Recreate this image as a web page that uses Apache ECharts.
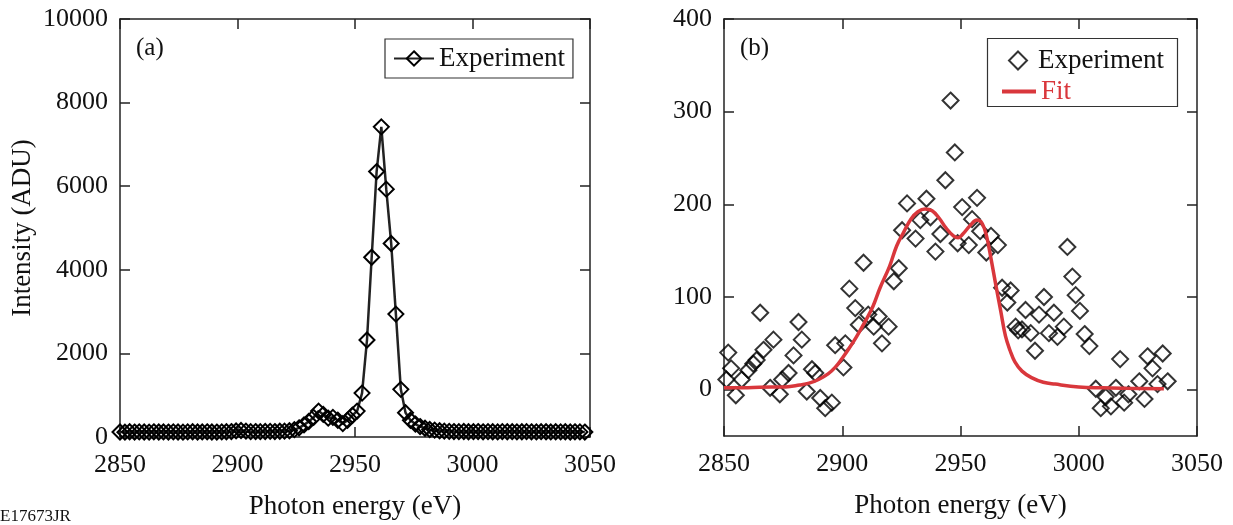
<!DOCTYPE html>
<html><head><meta charset="utf-8">
<script src="https://cdn.jsdelivr.net/npm/echarts@6/dist/echarts.min.js"></script>
<style>html,body{margin:0;padding:0;background:#fff}#c{width:1233px;height:525px}</style>
</head><body><div id="c"></div>
<script>
// Panel (a): Experiment
const xA = [2850.0,2852.1,2854.1,2856.2,2858.2,2860.3,2862.4,2864.4,2866.5,2868.5,
2870.6,2872.7,2874.7,2876.8,2878.8,2880.9,2883.0,2885.0,2887.1,2889.1,
2891.2,2893.3,2895.3,2897.4,2899.4,2901.5,2903.6,2905.6,2907.7,2909.7,
2911.8,2913.9,2915.9,2918.0,2920.0,2922.1,2924.2,2926.2,2928.3,2930.3,
2932.4,2934.5,2936.5,2938.6,2940.6,2942.7,2944.8,2946.8,2948.9,2950.9,
2953.0,2955.1,2957.1,2959.2,2961.2,2963.3,2965.4,2967.4,2969.5,2971.5,
2973.6,2975.7,2977.7,2979.8,2981.8,2983.9,2986.0,2988.0,2990.1,2992.1,
2994.2,2996.3,2998.3,3000.4,3002.4,3004.5,3006.6,3008.6,3010.7,3012.7,
3014.8,3016.9,3018.9,3021.0,3023.0,3025.1,3027.2,3029.2,3031.3,3033.3,
3035.4,3037.5,3039.5,3041.6,3043.6,3045.7,3047.8];
const yA = [120,115,125,118,122,120,117,124,119,121,
118,123,120,116,122,125,119,121,124,120,
118,122,126,130,145,155,140,128,130,128,
132,135,130,138,140,150,175,220,290,370,
470,620,540,450,470,400,320,400,520,620,
1050,2320,4300,6350,7420,5930,4630,2940,1140,580,
400,310,250,210,180,165,150,140,135,130,
128,132,125,127,130,124,128,126,122,129,
125,127,123,126,128,124,122,127,125,121,
126,123,125,120,124,122,118];

// Panel (b): Experiment scatter
const xB = [2851,2851.8,2853,2855,2857.5,2860.3,2862.4,2863.8,2865.3,2866.7,
2869.5,2870.9,2873.6,2874.6,2877.3,2879.4,2881.5,2882.9,2885,2887.2,
2888.6,2890.7,2892.8,2895.6,2897,2900.5,2901.3,2903,2905.5,2907,
2909,2911,2913.3,2915.4,2916.8,2919.6,2921.8,2923.9,2925.3,2927.4,
2931,2933,2935.6,2937.3,2939.4,2941.5,2943.6,2945.8,2947.6,2948.8,
2950.7,2953.5,2954.9,2957,2958.3,2960.9,2962.9,2965.8,2967.6,2969.8,
2971.2,2973.3,2974.4,2976,2977.5,2979.7,2981.5,2983.2,2985.3,2987.4,
2989.5,2991,2993.7,2995.2,2997.3,2998.7,3000.5,3002.5,3004.5,3007.2,
3009.3,3011.4,3013.6,3015.7,3017.5,3019.2,3021,3025.6,3027.8,3029.1,
3031.2,3033.3,3035.5,3037.6];
const yB = [11,40,23,-6,11,21,28,32,83,43,
2,54,-5,11,18,37,73,54,-2,22,
18,-9,-20,-14,48,24,50,109,88,70,
137,81,68,79,50,68,117,131,172,201,
163,183,206,186,149,168,226,312,256,158,
197,156,184,207,171,148,166,156,110,94,
107,68,64,65,86,61,42,81,100,61,
83,57,68,154,122,102,85,60,47,1,
-20,-8,-18,2,33,-14,-5,9,-10,36,
23,6,39,9];

// Panel (b): Fit curve
const xFit = [2850,2860,2870,2876,2882,2886,2890,2894,2897,2900,2903,2906,2910,2913,2916,2920,2923,2926,2929,2932,2935,2938,2941,2944,2947,2949,2951,2954,2957,2959,2961,2963,2965,2967,2969,2971,2973,2976,2980,2985,2990,3000,3010,3020,3036];
const yFit = [2,2,3,3,5,7,11,17,24,34,45,57,75,90,110,133,155,170,184,192,195,193,185,174,166,164,168,177,183,180,166,140,112,85,58,42,30,20,13,8,6,3,2,1.5,1];

const xTicks = [2850,2900,2950,3000,3050];
const yTicksA = [0,2000,4000,6000,8000,10000];
const yTicksB = [0,100,200,300,400];

const pairs = (xs, ys) => xs.map((x, i) => [x, ys[i]]);
const FONT = 'Liberation Serif';
const ink = '#111';
const RED = '#d9373c';
const lab = {fontFamily: FONT, fontSize: 26, color: ink, formatter: v => String(v)};

function xAx(grid, pos, labels, name) {
  return {
    type: 'value', gridIndex: grid, position: pos, min: 2850, max: 3050, interval: 50,
    axisLine: {show: true, onZero: false, lineStyle: {color: '#222', width: 1.5}},
    axisTick: {show: true, inside: true, length: 10, lineStyle: {color: '#222', width: 1.5}},
    axisLabel: {show: labels, margin: 15, ...lab},
    splitLine: {show: false},
    name: name || '', nameLocation: 'middle', nameGap: 56,
    nameTextStyle: {fontFamily: FONT, fontSize: 27, color: ink}
  };
}
function yAx(grid, pos, labels, min, max, ticks, name) {
  return {
    type: 'value', gridIndex: grid, position: pos, min: min, max: max,
    axisLine: {show: true, onZero: false, lineStyle: {color: '#222', width: 1.5}},
    axisTick: {show: true, inside: true, length: 10, customValues: ticks, lineStyle: {color: '#222', width: 1.5}},
    axisLabel: {show: labels, margin: 12, customValues: ticks, ...lab},
    splitLine: {show: false},
    name: name || '', nameLocation: 'middle', nameGap: 84,
    nameTextStyle: {fontFamily: FONT, fontSize: 27, color: ink}
  };
}

const legText = {fontFamily: FONT, fontSize: 27, color: ink};
const chart = echarts.init(document.getElementById('c'), null, {renderer: 'canvas'});
chart.setOption({
  animation: false,
  backgroundColor: '#fff',
  grid: [
    {left: 120, right: 643, top: 19, bottom: 88},
    {left: 724, right: 36, top: 19, bottom: 89}
  ],
  xAxis: [
    xAx(0, 'bottom', true, 'Photon energy (eV)'),
    xAx(0, 'top', false),
    xAx(1, 'bottom', true, 'Photon energy (eV)'),
    xAx(1, 'top', false)
  ],
  yAxis: [
    yAx(0, 'left', true, 0, 10000, yTicksA, 'Intensity (ADU)'),
    yAx(0, 'right', false, 0, 10000, yTicksA),
    yAx(1, 'left', true, -50, 400, yTicksB),
    yAx(1, 'right', false, -50, 400, yTicksB)
  ],
  legend: [
    {
      data: ['Experiment'], left: 385, top: 39, orient: 'vertical',
      borderColor: '#333', borderWidth: 1.2, padding: [6, 8, 6, 8],
      itemWidth: 40, itemHeight: 18, itemGap: 6,
      textStyle: legText
    },
    {
      data: [{name: 'Experiment b', icon: 'diamond'}],
      formatter: () => 'Experiment',
      left: 1003, top: 42, orient: 'vertical',
      itemWidth: 18, itemHeight: 18,
      textStyle: {...legText, padding: [0, 0, 0, 6]}
    },
    {
      data: [{name: 'Fit', icon: 'rect'}],
      left: 997, top: 73, orient: 'vertical',
      itemWidth: 34, itemHeight: 4,
      textStyle: {...legText, color: RED, padding: [0, 0, 0, 0]}
    }
  ],
  graphic: [
    {type: 'rect', left: 985, top: 36, shape: {width: 190, height: 68},
     style: {fill: 'none', stroke: '#333', lineWidth: 1.2}},
    {type: 'text', left: 136, top: 36, style: {text: '(a)', font: '25px "Liberation Serif"', fill: ink}},
    {type: 'text', left: 740, top: 36, style: {text: '(b)', font: '25px "Liberation Serif"', fill: ink}},
    {type: 'text', left: 0, top: 508, style: {text: 'E17673JR', font: '17px "Liberation Serif"', fill: ink}}
  ],
  series: [
    {
      name: 'Experiment', type: 'line', xAxisIndex: 0, yAxisIndex: 0,
      data: pairs(xA, yA), symbol: 'diamond', symbolSize: 15, showAllSymbol: true,
      lineStyle: {color: '#222', width: 2.5},
      itemStyle: {color: 'rgba(255,255,255,0)', borderColor: '#000', borderWidth: 2},
      z: 3
    },
    {
      name: 'Experiment b', type: 'scatter', xAxisIndex: 2, yAxisIndex: 2,
      data: pairs(xB, yB), symbol: 'diamond', symbolSize: 16,
      itemStyle: {color: 'rgba(255,255,255,0)', borderColor: '#000', borderWidth: 2},
      z: 2
    },
    {
      name: 'Fit', type: 'line', xAxisIndex: 2, yAxisIndex: 2,
      data: pairs(xFit, yFit), symbol: 'none', smooth: 0.4,
      lineStyle: {color: RED, width: 3.5},
      itemStyle: {color: RED},
      z: 4
    }
  ]
});
</script></body></html>
